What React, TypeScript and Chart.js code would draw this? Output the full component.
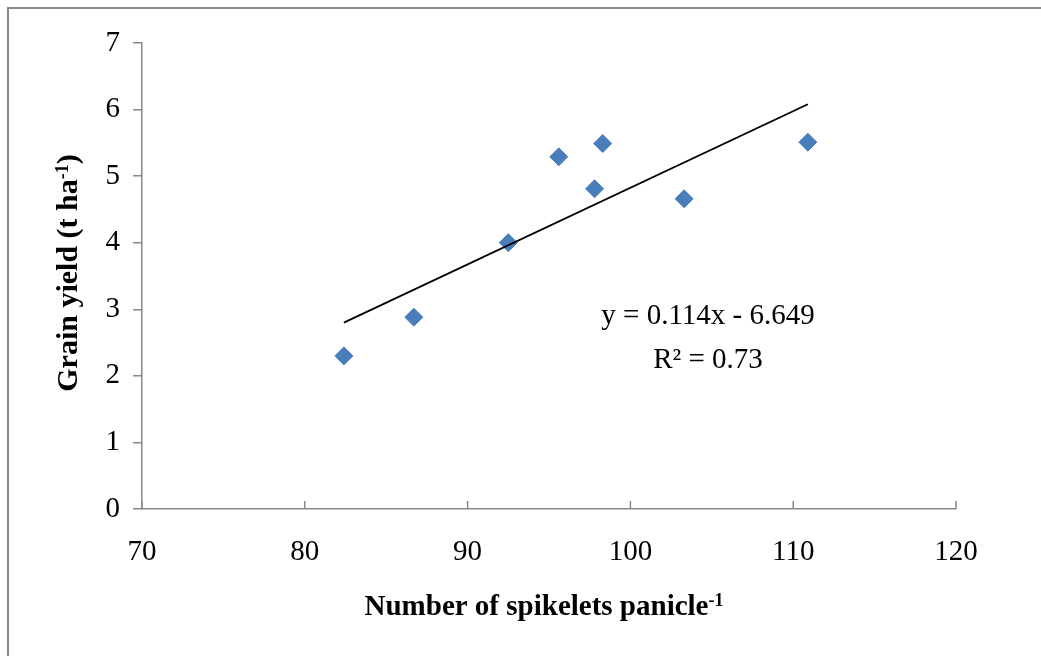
import { useEffect, useRef } from "react";
import { Chart, registerables } from "chart.js";

Chart.register(...registerables);

// ---- Data ----
const spikelets = [82.4, 86.7, 92.5, 95.6, 97.8, 98.3, 103.3, 110.9];
const grainYield = [2.3, 2.88, 4.0, 5.29, 4.81, 5.49, 4.66, 5.51];
const trendX = [82.4, 110.9];
const trendY = [2.8, 6.08];
const xTickValues = [70, 80, 90, 100, 110, 120];
const yTickValues = [0, 1, 2, 3, 4, 5, 6, 7];
const equationLines = ["y = 0.114x - 6.649", "R\u00B2 = 0.73"];
const xTitleMain = "Number of spikelets panicle";
const xTitleSup = "-1";
const yTitleMain = "Grain yield (t ha";
const yTitleSup = "-1";
const yTitleEnd = ")";

const AXIS = "#888888";
const BLUE = "#4a7ebb";
const SERIF = '"Liberation Serif", "Times New Roman", serif';

const overlayPlugin = {
  id: "overlay",
  afterDraw(chart: any) {
    const ctx = chart.ctx as CanvasRenderingContext2D;
    const xs = chart.scales.x;
    const ys = chart.scales.y;
    ctx.save();
    // inside tick marks on x axis
    ctx.strokeStyle = AXIS;
    ctx.lineWidth = 1.5;
    xs.ticks.forEach((t: any) => {
      const px = xs.getPixelForValue(t.value);
      ctx.beginPath();
      ctx.moveTo(px, ys.bottom);
      ctx.lineTo(px, ys.bottom - 8);
      ctx.stroke();
    });

    ctx.fillStyle = "#000";
    // equation text
    ctx.font = `29px ${SERIF}`;
    ctx.textAlign = "center";
    ctx.textBaseline = "alphabetic";
    ctx.fillText(equationLines[0], 708, 324);
    ctx.fillText(equationLines[1], 708, 368);

    // x title with superscript
    ctx.textAlign = "left";
    ctx.font = `bold 29px ${SERIF}`;
    const w1 = ctx.measureText(xTitleMain).width;
    ctx.font = `bold 18px ${SERIF}`;
    const w2 = ctx.measureText(xTitleSup).width;
    const sx = 544 - (w1 + w2) / 2;
    ctx.font = `bold 29px ${SERIF}`;
    ctx.fillText(xTitleMain, sx, 615);
    ctx.font = `bold 18px ${SERIF}`;
    ctx.fillText(xTitleSup, sx + w1, 606);

    // y title rotated
    ctx.translate(77, 273);
    ctx.rotate(-Math.PI / 2);
    ctx.font = `bold 30px ${SERIF}`;
    const a = ctx.measureText(yTitleMain).width;
    const c = ctx.measureText(yTitleEnd).width;
    ctx.font = `bold 18px ${SERIF}`;
    const b = ctx.measureText(yTitleSup).width;
    const start = -(a + b + c) / 2;
    ctx.font = `bold 30px ${SERIF}`;
    ctx.fillText(yTitleMain, start, 0);
    ctx.font = `bold 18px ${SERIF}`;
    ctx.fillText(yTitleSup, start + a, -9);
    ctx.font = `bold 30px ${SERIF}`;
    ctx.fillText(yTitleEnd, start + a + b, 0);
    ctx.restore();
  },
};

export default function App() {
  const canvasRef = useRef<HTMLCanvasElement | null>(null);

  useEffect(() => {
    if (!canvasRef.current) return;
    const chart = new Chart(canvasRef.current, {
      type: "scatter",
      data: {
        datasets: [
          {
            label: "Trend",
            data: trendX.map((x, i) => ({ x, y: trendY[i] })),
            showLine: true,
            borderColor: "#000",
            borderWidth: 1.8,
            pointRadius: 0,
            pointHoverRadius: 0,
            fill: false,
            order: 0,
          },
          {
            label: "Grain yield",
            data: spikelets.map((x, i) => ({ x, y: grainYield[i] })),
            pointStyle: "rectRot",
            pointRadius: 9,
            pointHoverRadius: 9,
            backgroundColor: BLUE,
            borderColor: BLUE,
            borderWidth: 1,
            order: 1,
          },
        ],
      },
      options: {
        responsive: false,
        animation: false,
        layout: { padding: { top: 43, right: 85, bottom: 0, left: 0 } },
        plugins: {
          legend: { display: false },
          tooltip: { enabled: false },
          title: { display: false },
        },
        scales: {
          x: {
            type: "linear",
            min: 70,
            max: 120,
            afterBuildTicks: (s: any) => {
              s.ticks = xTickValues.map((v) => ({ value: v }));
            },
            afterFit: (s: any) => {
              s.height = 147;
            },
            grid: { display: true, drawOnChartArea: false, drawTicks: false, color: AXIS, lineWidth: 1.5 },
            border: { display: true, color: AXIS, width: 1.5 },
            ticks: {
              color: "#000",
              font: { family: SERIF, size: 29 },
              padding: 26,
              maxRotation: 0,
            },
          },
          y: {
            type: "linear",
            min: 0,
            max: 7,
            afterBuildTicks: (s: any) => {
              s.ticks = yTickValues.map((v) => ({ value: v }));
            },
            afterFit: (s: any) => {
              s.width = 142;
            },
            grid: { display: true, drawOnChartArea: false, drawTicks: true, tickLength: 9, color: AXIS, lineWidth: 1.5 },
            border: { display: true, color: AXIS, width: 1.5 },
            ticks: {
              color: "#000",
              font: { family: SERIF, size: 29 },
              padding: 13,
            },
          },
        },
      },
      plugins: [overlayPlugin],
    });
    return () => chart.destroy();
  }, []);

  return (
    <div
      style={{
        position: "fixed",
        left: 0,
        top: 0,
        width: 1041,
        height: 656,
        overflow: "hidden",
        background: "#fff",
      }}
    >
      <div
        style={{
          position: "absolute",
          left: 7,
          top: 7,
          width: 1100,
          height: 720,
          border: "2px solid #8a8a8a",
        }}
      />
      <canvas
        ref={canvasRef}
        width={1041}
        height={656}
        style={{ position: "absolute", left: 0, top: 0, width: 1041, height: 656 }}
      />
    </div>
  );
}
